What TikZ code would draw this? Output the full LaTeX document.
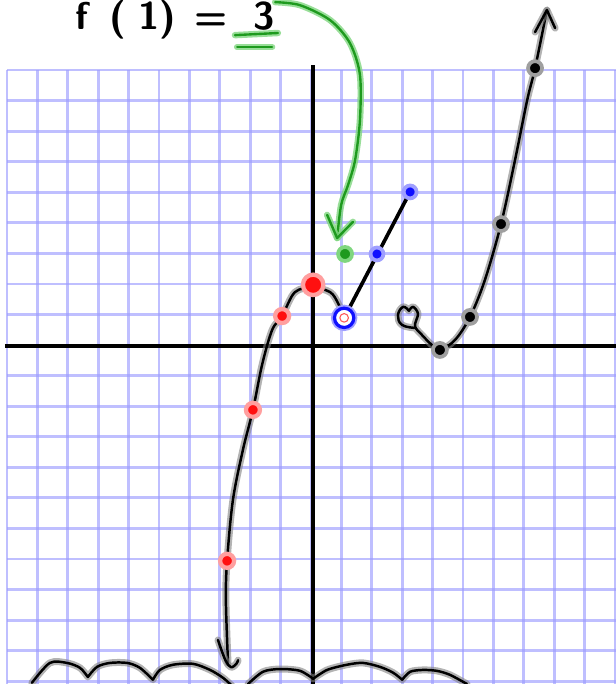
\documentclass[tikz,border=0pt]{standalone}
\usepackage{tikz}
\usetikzlibrary{positioning, calc}
\definecolor{gridblue}{HTML}{9C9CFF}
\definecolor{penred}{HTML}{FF1010}
\definecolor{penblue}{HTML}{1010FF}
\definecolor{pengreen}{HTML}{1E9A1E}
\definecolor{halogreen}{HTML}{7FD67F}
\tikzset{
	gridline/.style={draw=gridblue, line width=2.6pt, opacity=0.65}
}
\tikzset{
	axisline/.style={draw=black, line width=3.6pt}
}
\tikzset{
	pen/.style={draw=black, line width=2.3pt, line cap=round, line join=round,
		preaction={draw=gray, line width=6.5pt, opacity=0.6, line cap=round, line join=round}}
}
\tikzset{
	greenpen/.style={draw=pengreen, line width=2.2pt, line cap=round, line join=round,
		preaction={draw=halogreen, line width=6pt, opacity=0.8, line cap=round, line join=round}}
}
\tikzset{
	reddot/.style={circle, inner sep=0pt, minimum size=13pt, fill=penred, draw=penred!40, line width=4pt},
	bluedot/.style={circle, inner sep=0pt, minimum size=12pt, fill=penblue, draw=penblue!40, line width=3.5pt},
	greendot/.style={circle, inner sep=0pt, minimum size=13pt, fill=pengreen, draw=halogreen, line width=3.5pt},
	blackdot/.style={circle, inner sep=0pt, minimum size=13pt, fill=black, draw=gray!75, line width=3.5pt},
	opendot/.style={circle, inner sep=0pt, minimum size=18pt, fill=white, draw=penblue, line width=3pt,
		preaction={draw=penblue!40, line width=6.5pt}}
}
\tikzset{
	handtext/.style={font=\sffamily\bfseries\fontsize{36}{40}\selectfont, text=black, inner sep=0pt}
}

\begin{document}
\begin{tikzpicture}[x=0.9947cm, y=1cm]
\useasboundingbox (-10.23,-11.09) rectangle (10.03,11.29);

\foreach \x in {-10,...,10}
	\draw[gridline] (\x,9) -- (\x,-11.4);
\foreach \y in {-11,...,9}
	\draw[gridline] (-10,\y) -- (10.3,\y);

\draw[axisline] (0.07,9.16) -- (0.07,-11.4);
\draw[axisline] (-10.07,-0.04) -- (10.3,-0.04);

\coordinate (rA) at (-2.76,-7.06);
\coordinate (rB) at (-1.91,-2.12);
\coordinate (rC) at (-0.95,0.95);
\coordinate (rD) at (0.07,1.97);
\coordinate (bA) at (1.09,0.89);
\coordinate (bB) at (2.17,2.98);
\coordinate (bC) at (3.26,5.01);
\coordinate (gA) at (1.12,2.98);
\coordinate (kA) at (4.24,-0.16);
\coordinate (kB) at (5.23,0.92);
\coordinate (kC) at (6.25,3.96);
\coordinate (kD) at (7.37,9.06);
\coordinate (kTip) at (7.76,10.96);
\coordinate (rTip) at (-2.73,-10.40);
\coordinate (gTip) at (0.86,3.50);

\draw[pen] plot[smooth, tension=0.55] coordinates {(rTip) (-2.80,-8.34) (rA) (-2.57,-5.08) (-2.24,-3.43) (rB) (-1.61,-0.65) (-1.28,0.49) (rC) (-0.53,1.73) (0.07,1.88) (0.63,1.73) (0.89,1.37) (bA)};
\draw[pen] plot[smooth, tension=0.6] coordinates {(-3.06,-9.65) (-2.82,-10.30) (-2.63,-10.54) (-2.45,-10.42) (-2.40,-10.31)};

\draw[pen] plot[smooth, tension=0.7] coordinates {(3.42,0.56) (2.99,0.66) (2.86,0.98) (3.03,1.25) (3.22,1.12)}
	-- plot[smooth, tension=0.55] coordinates {(3.22,1.12) (3.36,1.25) (3.52,1.02) (3.42,0.62) (3.65,0.33) (3.98,0.00) (kA) (4.74,0.17) (kB) (5.72,2.13) (kC) (6.71,6.05) (7.11,8.01) (kD) (kTip)};
\draw[pen] (7.37,10.24) -- (kTip) -- (8.03,10.37);

\draw[pen] plot[smooth] coordinates {(-9.18,-11.05) (-8.59,-10.40) (-8.03,-10.40) (-7.60,-10.56) (-7.34,-10.86)}
	-- plot[smooth] coordinates {(-7.34,-10.86) (-7.04,-10.53) (-6.61,-10.40) (-6.05,-10.40) (-5.63,-10.56) (-5.20,-10.95)}
	-- plot[smooth] coordinates {(-5.20,-10.95) (-4.97,-10.63) (-4.54,-10.46) (-3.88,-10.43) (-3.32,-10.63) (-2.89,-10.89) (-2.60,-11.15)};
\draw[pen] plot[smooth] coordinates {(-2.07,-11.09) (-1.58,-10.69) (-1.02,-10.60) (-0.36,-10.66) (0.07,-10.92)}
	-- plot[smooth] coordinates {(0.07,-10.92) (0.53,-10.63) (1.18,-10.46) (1.71,-10.40) (2.27,-10.53) (2.70,-10.72) (3.00,-10.95)}
	-- plot[smooth] coordinates {(3.00,-10.95) (3.26,-10.69) (3.68,-10.63) (4.14,-10.66) (4.57,-10.79) (5.13,-11.09)};

\draw[black, line width=3.4pt, line cap=round] (bA) -- (bC);

\node[reddot] (rAdot) at (rA) {};
\node[reddot] (rBdot) at (rB) {};
\node[reddot] (rCdot) at (rC) {};
\node[reddot, minimum size=19pt] (rDdot) at (rD) {};
\node[opendot] (bAdot) at (bA) {};
\draw[penred!70, line width=1pt] (bA) circle (4pt);
\node[bluedot] (bBdot) at (bB) {};
\node[bluedot] (bCdot) at (bC) {};
\node[greendot] (gAdot) at (gA) {};
\node[blackdot] (kAdot) at (kA) {};
\node[blackdot] (kBdot) at (kB) {};
\node[blackdot] (kCdot) at (kC) {};
\node[blackdot] (kDdot) at (kD) {};

\node[handtext, anchor=base west] (fLabel) at (-7.76,10.31) {f\kern20pt(\kern11pt1)\kern17pt=\kern24pt3};

\draw[greenpen] (-2.50,10.14) -- (-1.09,10.21);
\draw[greenpen] (-2.43,9.75) -- (-1.28,9.75);
\draw[greenpen] plot[smooth] coordinates {(-1.18,11.22) (-0.36,11.12) (0.63,10.63) (1.28,9.88) (1.61,8.84) (1.61,7.36) (1.45,6.05) (1.22,5.24) (0.99,4.58) (gTip)};
\draw[greenpen] (0.53,4.26) -- (gTip) -- (1.38,4.03);

\end{tikzpicture}
\end{document}
